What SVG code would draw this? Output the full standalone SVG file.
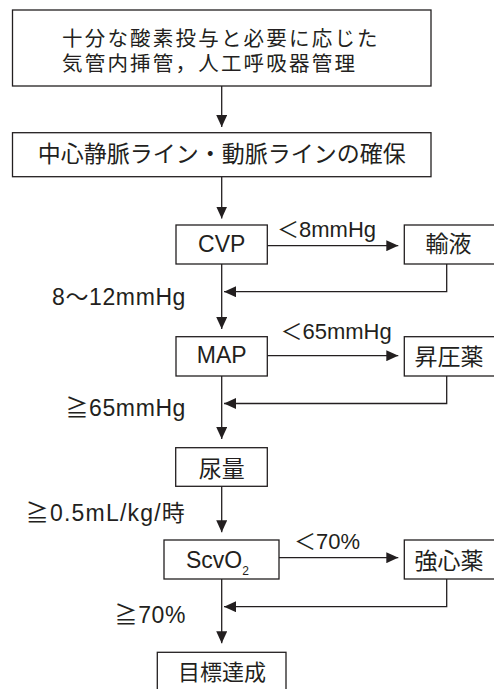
<svg xmlns="http://www.w3.org/2000/svg" width="494" height="689" viewBox="0 0 494 689">
<style>
.box{fill:#fff;stroke:#231f20;stroke-width:1.3}
.ln{fill:none;stroke:#231f20;stroke-width:1.3}
text{font-family:"Liberation Sans","Noto Sans CJK JP",sans-serif;fill:#231f20}
.c{text-anchor:middle}
.e{text-anchor:end}
.jp{font-size:23px}
.lat{font-size:23px}
.lbl{font-size:23px;letter-spacing:0.6px}
.lt{font-size:22px}
.top{font-size:20.5px;letter-spacing:2.2px}
</style>
<defs>
<marker id="ah" viewBox="0 0 12 11" refX="12" refY="5.5" markerWidth="12" markerHeight="11" markerUnits="userSpaceOnUse" orient="auto">
<path d="M0,0 L12,5.5 L0,11 z" fill="#231f20"/>
</marker>
</defs>
<rect width="494" height="689" fill="#fff"/>
<g id="connectors">
<line class="ln" x1="221.7" y1="86" x2="221.7" y2="127" marker-end="url(#ah)"/>
<line class="ln" x1="221.7" y1="176.7" x2="221.7" y2="218.5" marker-end="url(#ah)"/>
<line class="ln" x1="221.7" y1="264" x2="221.7" y2="329" marker-end="url(#ah)"/>
<line class="ln" x1="221.7" y1="376" x2="221.7" y2="439" marker-end="url(#ah)"/>
<line class="ln" x1="221.7" y1="486.3" x2="221.7" y2="532.3" marker-end="url(#ah)"/>
<line class="ln" x1="221.7" y1="579" x2="221.7" y2="643.3" marker-end="url(#ah)"/>
<line class="ln" x1="267.3" y1="245.7" x2="398.3" y2="245.7" marker-end="url(#ah)"/>
<line class="ln" x1="267.3" y1="355.7" x2="398.3" y2="355.7" marker-end="url(#ah)"/>
<line class="ln" x1="279" y1="557.7" x2="398.3" y2="557.7" marker-end="url(#ah)"/>
<polyline class="ln" points="446.7,264 446.7,291.7 224,291.7" marker-end="url(#ah)"/>
<polyline class="ln" points="446.7,376 446.7,403.5 224,403.5" marker-end="url(#ah)"/>
<polyline class="ln" points="446.7,579 446.7,606.7 224,606.7" marker-end="url(#ah)"/>
<text class="lt" x="277" y="236.7">＜8mmHg</text>
<text class="lbl e" x="186" y="305">8〜12mmHg</text>
<text class="lt" x="280.5" y="339.3">＜65mmHg</text>
<text class="lbl e" x="186" y="415.7">≧65mmHg</text>
<text class="lbl e" x="186" y="520.7" style="letter-spacing:1.2px">≧0.5mL/kg/時</text>
<text class="lt" x="294" y="549">＜70%</text>
<text class="lbl e" x="186" y="623.3">≧70%</text>
</g>
<g id="n1">
<rect class="box" x="12.5" y="10" width="418.5" height="76"/>
<text class="top" x="62" y="46">十分な酸素投与と必要に応じた</text>
<text class="top" x="62" y="71">気管内挿管，人工呼吸器管理</text>
</g>
<g id="n2">
<rect class="box" x="12.5" y="132.7" width="418.5" height="44"/>
<text class="jp c" x="221.7" y="162.4">中心静脈ライン・動脈ラインの確保</text>
</g>
<g id="cvp">
<rect class="box" x="176" y="225" width="91.3" height="39"/>
<text class="lat c" x="221.7" y="251.7">CVP</text>
</g>
<g id="yueki">
<rect class="box" x="404.3" y="225" width="91" height="39"/>
<text class="jp c" x="448.5" y="252">輸液</text>
</g>
<g id="map">
<rect class="box" x="176" y="336.7" width="91.3" height="39.3"/>
<text class="lat c" x="221.7" y="363.3">MAP</text>
</g>
<g id="shoatsu">
<rect class="box" x="404.3" y="336.7" width="91" height="39.3"/>
<text class="jp c" x="449" y="365.4">昇圧薬</text>
</g>
<g id="nyoryo">
<rect class="box" x="175.7" y="447.7" width="91.6" height="38.6"/>
<text class="jp c" x="221.7" y="477.4">尿量</text>
</g>
<g id="scvo2">
<rect class="box" x="164" y="540" width="115" height="39"/>
<text class="lat" x="186" y="567.7">ScvO<tspan style="font-size:12px" dy="7.3">2</tspan></text>
</g>
<g id="kyoshin">
<rect class="box" x="404.3" y="540" width="91" height="39"/>
<text class="jp c" x="449" y="568.7">強心薬</text>
</g>
<g id="goal">
<rect class="box" x="157.3" y="652.3" width="128.7" height="45"/>
<text class="c" x="222" y="680" style="font-size:22px">目標達成</text>
</g>
</svg>
